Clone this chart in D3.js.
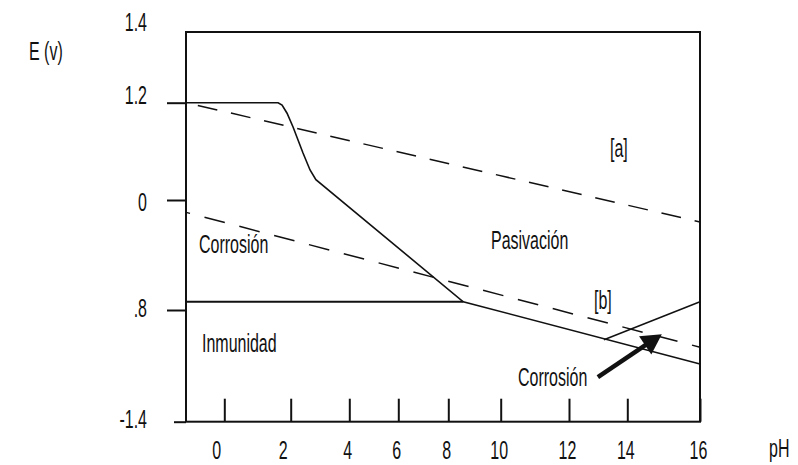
<!DOCTYPE html>
<html><head><meta charset="utf-8">
<script src="https://cdn.jsdelivr.net/npm/d3@7"></script>
<style>body{margin:0;background:#fff}svg{display:block}text{font-family:"Liberation Sans",Arial,sans-serif;font-size:25px;fill:#111}</style>
</head><body>
<svg id="chart" width="798" height="465"></svg>
<script>
// ---- data (pH / E in volts) ----
const xTickVals = [0, 2, 4, 6, 8, 10, 12, 14, 16];
const xTickLabels = ["0", "2", "4", "6", "8", "10", "12", "14", "16"];
const yTickVals = [1.4, 1.2, 0, -0.8, -1.4];
const yTickLabels = ["1.4", "1.2", "0", ".8", "-1.4"];

const boundaryPH = [-1.15, 1.62, 1.74, 1.89, 2.08, 2.42, 2.66, 2.86, 8.57, 16];
const boundaryE  = [1.2, 1.2, 1.17, 1.07, 0.90, 0.58, 0.37, 0.25, -0.74, -1.09];
const immunityPH = [-1.15, 8.57];
const immunityE  = [-0.74, -0.74];
const upperPH = [13.2, 16];
const upperE  = [-0.96, -0.74];
const lineA_PH = [-1.15, 16];
const lineA_E  = [1.2, -0.16];
const lineB_PH = [-1.15, 16];
const lineB_E  = [-0.09, -1.0];
const arrowPH = [12.99, 14.95];
const arrowE  = [-1.16, -0.93];
const regionLabels = ["Corrosión", "Inmunidad", "Pasivación", "[a]", "[b]", "Corrosión"];

// ---- layout ----
const SX = 0.64; // horizontal squeeze of the narrow font
const svg = d3.select("#chart");
const frameL = 186, frameR = 700, frameT = 32, frameB = 421.7;

const x = d3.scaleLinear()
  .domain(xTickVals)
  .range([224.3, 290.7, 349.3, 398.3, 448.3, 500.7, 569, 627.3, 700]);
const y = d3.scaleLinear()
  .domain([-1.4, -0.8, 0, 1.2, 1.4])
  .range([421.7, 310, 200, 102.7, 24]);

const lineGen = d3.line().x(d => x(d[0])).y(d => y(d[1]));
function addText(str, tx, ty, anchor) {
  svg.append("text")
    .attr("transform", `translate(${tx},${ty}) scale(${SX},1)`)
    .attr("text-anchor", anchor || "start")
    .text(str);
}

// frame
svg.append("rect")
  .attr("x", frameL).attr("y", frameT)
  .attr("width", frameR - frameL).attr("height", frameB - frameT)
  .attr("fill", "none").attr("stroke", "#111").attr("stroke-width", 2);

// bottom axis (ticks pointing inward)
const gx = svg.append("g").attr("transform", `translate(0,${frameB})`)
  .call(d3.axisBottom(x).tickValues(xTickVals)
    .tickFormat((d, i) => xTickLabels[i]).tickSizeInner(-23).tickSizeOuter(0));
gx.select(".domain").remove();
gx.attr("font-size", null).attr("font-family", null);
gx.selectAll("line").attr("stroke", "#111").attr("stroke-width", 2);
gx.selectAll("text").attr("y", null).attr("dy", null).attr("fill", null)
  .attr("transform", d => `translate(${d < 3 ? -8 : -2},37) scale(${SX},1)`);

// left axis (ticks pointing outward)
const gy = svg.append("g").attr("transform", `translate(${frameL},0)`)
  .call(d3.axisLeft(y).tickValues(yTickVals)
    .tickFormat((d, i) => yTickLabels[i]).tickSizeInner(19).tickSizeOuter(0));
gy.select(".domain").remove();
gy.attr("font-size", null).attr("font-family", null);
gy.selectAll(".tick line").attr("stroke", "#111").attr("stroke-width", 2)
  .attr("x2", d => d === 1.4 ? 0 : d === -1.4 ? -12 : -19);
gy.selectAll("text").attr("x", null).attr("dy", null).attr("fill", null)
  .attr("text-anchor", "end")
  .attr("transform", d => `translate(-39,${d === 1.2 ? 1 : d === 0 ? 10 : 6}) scale(${SX},1)`);

// boundary lines
svg.append("path").datum(d3.zip(boundaryPH, boundaryE)).attr("d", lineGen)
  .attr("fill", "none").attr("stroke", "#111").attr("stroke-width", 1.6);
svg.append("path").datum(d3.zip(immunityPH, immunityE)).attr("d", lineGen)
  .attr("fill", "none").attr("stroke", "#111").attr("stroke-width", 2);
svg.append("path").datum(d3.zip(upperPH, upperE)).attr("d", lineGen)
  .attr("fill", "none").attr("stroke", "#111").attr("stroke-width", 1.5);
svg.append("path").datum(d3.zip(lineA_PH, lineA_E)).attr("d", lineGen)
  .attr("fill", "none").attr("stroke", "#111").attr("stroke-width", 1.5)
  .attr("stroke-dasharray", "20,14").attr("stroke-dashoffset", -12);
svg.append("path").datum(d3.zip(lineB_PH, lineB_E)).attr("d", lineGen)
  .attr("fill", "none").attr("stroke", "#111").attr("stroke-width", 1.5)
  .attr("stroke-dasharray", "21,15").attr("stroke-dashoffset", 17);

// arrow
const tail = [x(arrowPH[0]), y(arrowE[0])], tip = [x(arrowPH[1]), y(arrowE[1])];
const ddx = tip[0] - tail[0], ddy = tip[1] - tail[1], len = Math.hypot(ddx, ddy);
const ux = ddx / len, uy = ddy / len, nx = -uy, ny = ux;
const headL = 20, headW = 11;
const base = [tip[0] - ux * headL, tip[1] - uy * headL];
svg.append("line").attr("x1", tail[0]).attr("y1", tail[1])
  .attr("x2", base[0] + ux * 2).attr("y2", base[1] + uy * 2)
  .attr("stroke", "#111").attr("stroke-width", 4.5);
svg.append("polygon")
  .attr("points", [tip, [base[0] + nx * headW, base[1] + ny * headW],
                   [base[0] - nx * headW, base[1] - ny * headW]].map(p => p.join(",")).join(" "))
  .attr("fill", "#111");

// labels
addText("E (v)", 29, 60);
addText("pH", 769, 457);
addText(regionLabels[0], 199, 253);
addText(regionLabels[1], 202, 352);
addText(regionLabels[2], 491, 249);
addText(regionLabels[3], 610, 157);
addText(regionLabels[4], 594, 309);
addText(regionLabels[5], 518, 386);
</script>
</body></html>
